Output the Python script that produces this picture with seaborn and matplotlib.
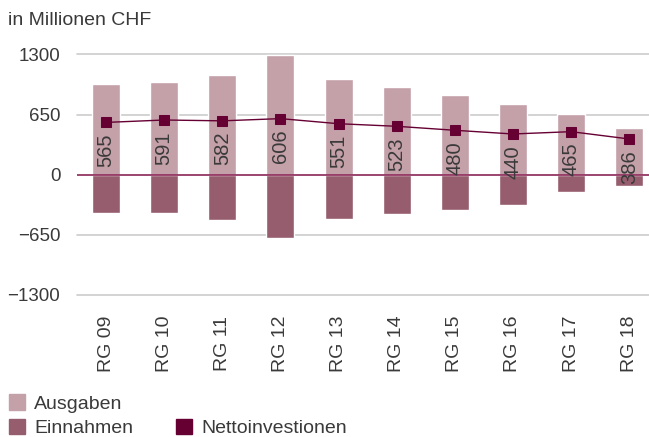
import matplotlib
matplotlib.use("Agg")
import matplotlib.pyplot as plt
from matplotlib.patches import Patch
import seaborn as sns

# Daten (in Millionen CHF)
jahre = ["RG 09", "RG 10", "RG 11", "RG 12", "RG 13", "RG 14", "RG 15", "RG 16", "RG 17", "RG 18"]
ausgaben = [975, 1005, 1075, 1290, 1035, 945, 860, 765, 652, 510]
einnahmen = [-410, -414, -493, -684, -484, -422, -380, -325, -187, -124]
netto = [565, 591, 582, 606, 551, 523, 480, 440, 465, 386]
yticks = [-1300, -650, 0, 650, 1300]

c_ausgaben = "#c4a0a9"
c_einnahmen = "#965d6e"
c_netto = "#660033"
c_text = "#3a3a3a"

sns.set_style("white")
plt.rcParams["font.family"] = ["Liberation Sans", "DejaVu Sans"]

fig = plt.figure(figsize=(6.49, 4.37), dpi=100)
ax = fig.add_axes([0.1186, 0.325, 0.8814, 0.5505])

for y in [-1300, -650, 650, 1300]:
    ax.axhline(y, color="#cccccc", lw=1.2, zorder=0, clip_on=False)

sns.barplot(x=jahre, y=ausgaben, color=c_ausgaben, width=0.48, saturation=1, ax=ax, zorder=2)
sns.barplot(x=jahre, y=einnahmen, color=c_einnahmen, width=0.48, saturation=1, ax=ax, zorder=2)
ax.axhline(0, color="#8a2556", lw=1.2, zorder=3)
sns.pointplot(x=jahre, y=netto, color=c_netto, markers="s", markersize=6.5, linewidth=1,
              ax=ax, zorder=4)
ax.lines[-1].set_zorder(4)

for i, v in enumerate(netto):
    ax.annotate(str(v), (i, v), xytext=(0, -8), textcoords="offset points",
                rotation=90, ha="center", va="top", fontsize=14.5, color=c_text, zorder=5)

ax.set_xlim(-0.5, 9.34)
ax.set_ylim(-1300, 1300)
ax.set_yticks(yticks)
ax.set_yticklabels(["\u22121300", "\u2212650", "0", "650", "1300"])
ax.tick_params(axis="y", length=0, pad=12, labelsize=13.5, labelcolor=c_text)
ax.tick_params(axis="x", length=0, pad=15, labelsize=14, labelcolor=c_text, rotation=90)
for s in ax.spines.values():
    s.set_visible(False)
ax.set_xlabel("")
ax.set_ylabel("")

fig.text(0.012, 0.952, "in Millionen CHF", fontsize=14, color=c_text, va="center", ha="left")

handles = [
    Patch(color=c_ausgaben, label="Ausgaben"),
    Patch(color=c_einnahmen, label="Einnahmen"),
    Patch(color="none", label=""),
    Patch(color=c_netto, label="Nettoinvestionen"),
]
fig.legend(handles=handles, ncol=2, loc="lower left", bbox_to_anchor=(0.014, 0.0),
           frameon=False, fontsize=14, handlelength=0.83, handleheight=0.83,
           handletextpad=0.46, columnspacing=2.2, labelspacing=0.3,
           borderpad=0, borderaxespad=0, labelcolor=c_text)

fig.savefig("out.png", dpi=100)
